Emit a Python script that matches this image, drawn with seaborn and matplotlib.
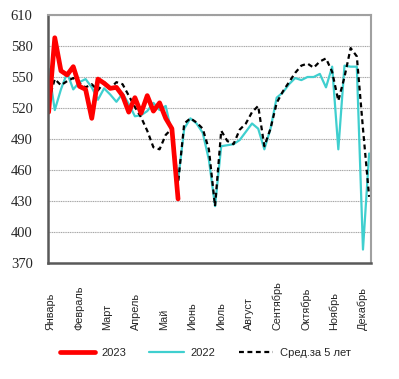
import numpy as np
import pandas as pd
import matplotlib
matplotlib.use("Agg")
import matplotlib.pyplot as plt
import seaborn as sns

# weekly values
y2023 = [516, 588, 556, 552, 560, 541, 538, 510, 548, 544, 539, 540, 532, 516,
         530, 515, 532, 517, 525, 510, 500, 432]
y2022 = [558, 518, 538, 554, 538, 545, 548, 540, 528, 539, 533, 526, 534, 524,
         512, 513, 517, 525, 518, 522, 495, 450, 500, 510, 505, 496, 470, 425,
         483, 484, 485, 489, 497, 505, 500, 480, 500, 530, 535, 543, 549, 547,
         550, 550, 553, 540, 560, 480, 561, 560, 560, 383, 476]
avg5 = [527, 548, 542, 546, 549, 544, 540, 543, 537, 545, 539, 545, 543, 532,
        521, 511, 498, 482, 480, 494, 500, 447, 505, 510, 506, 500, 480, 425,
        498, 488, 485, 499, 505, 516, 522, 483, 500, 525, 536, 545, 554, 561,
        563, 559, 565, 568, 555, 527, 550, 578, 570, 500, 434]
months = ["Январь", "Февраль", "Март", "Апрель", "Май", "Июнь", "Июль",
          "Август", "Сентябрь", "Октябрь", "Ноябрь", "Декабрь"]
yticks = [370, 400, 430, 460, 490, 520, 550, 580, 610]

df = pd.concat([
    pd.DataFrame({"week": np.arange(len(y2023)), "value": y2023, "series": "2023"}),
    pd.DataFrame({"week": np.arange(len(y2022)), "value": y2022, "series": "2022"}),
    pd.DataFrame({"week": np.arange(len(avg5)), "value": avg5, "series": "Сред.за 5 лет"}),
])

sns.set_style("white")
plt.rcParams["font.family"] = ["Liberation Sans", "DejaVu Sans"]

fig = plt.figure(figsize=(3.99, 3.79), dpi=100)
ax = fig.add_axes([0.1203, 0.3061, 0.8095, 0.6543])

ax.grid(axis="y", color="#a6a6a6", linewidth=0.8, linestyle=(0, (1, 0.6)))
ax.set_axisbelow(True)

sns.lineplot(data=df[df.series == "2022"], x="week", y="value", color="#3fcfcf",
             linewidth=1.6, ax=ax, label="2022")
sns.lineplot(data=df[df.series == "Сред.за 5 лет"], x="week", y="value", color="black",
             linewidth=1.6, ax=ax, label="Сред.за 5 лет", linestyle=(0, (2.2, 1.6)))
sns.lineplot(data=df[df.series == "2023"], x="week", y="value", color="#ff0000",
             linewidth=3.4, ax=ax, label="2023")

ax.set_ylim(370, 610)
ax.set_xlim(-0.1, 52.3)
ax.set_yticks(yticks)
ax.set_yticklabels([str(v) for v in yticks], family="Liberation Serif", fontsize=10.5)
ax.tick_params(axis="y", length=0, pad=11)
ax.set_xticks([])
ax.set_xlabel("")
ax.set_ylabel("")

for i, m in enumerate(months):
    ax.text(0.33 + i * 4.6, -0.27, m, transform=ax.get_xaxis_transform(),
            rotation=90, ha="center", va="bottom", fontsize=7.8)

for side in ["top", "right"]:
    ax.spines[side].set_color("#a0a0a0")
    ax.spines[side].set_linewidth(1.5)
for side in ["left", "bottom"]:
    ax.spines[side].set_color("#595959")
    ax.spines[side].set_linewidth(1.8)

ax.get_legend().remove()
h, l = ax.get_legend_handles_labels()
order = [l.index("2023"), l.index("2022"), l.index("Сред.за 5 лет")]
fig.legend([h[i] for i in order], [l[i] for i in order], loc="center",
           bbox_to_anchor=(0.515, 0.068), ncol=3, frameon=False, fontsize=8,
           handlelength=3.1, columnspacing=2.1, handletextpad=0.6)

fig.savefig("out.png", dpi=100)
